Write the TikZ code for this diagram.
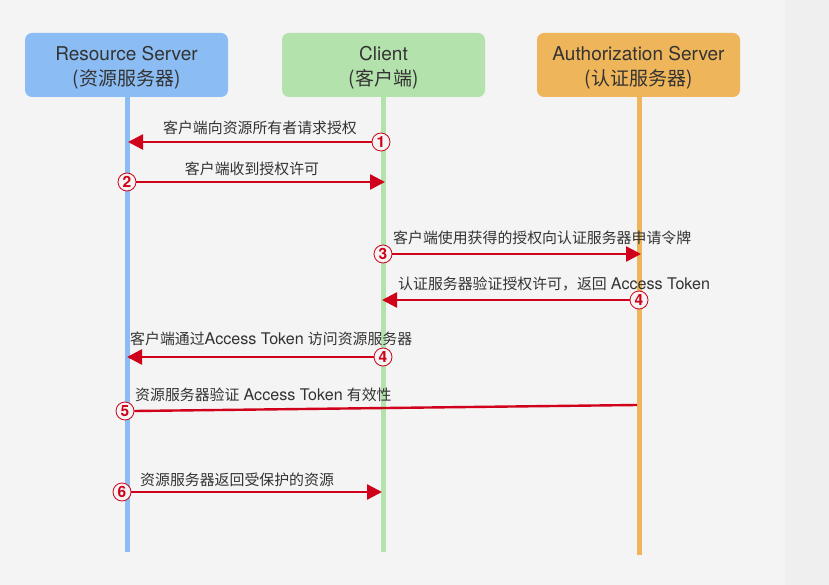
\documentclass[tikz,border=0pt]{standalone}
\usepackage{fontspec}
\setmainfont{TeX Gyre Heros}
\newfontfamily\cjk{Noto Sans CJK SC}
\newfontfamily\latl{TeX Gyre Heros}[Scale=1.08]
\usetikzlibrary{arrows.meta}
\definecolor{bg}{HTML}{F4F4F4}
\definecolor{strip}{HTML}{EFEFEF}
\definecolor{rsblue}{HTML}{8BBDF4}
\definecolor{clgreen}{HTML}{B3E2AC}
\definecolor{asorange}{HTML}{EFB55A}
\definecolor{msgred}{HTML}{D0021B}
\definecolor{txt}{HTML}{333333}
\begin{document}
\begin{tikzpicture}[x=1pt,y=-1pt,
  actor/.style={rounded corners=7pt, minimum width=203pt, minimum height=64pt, inner sep=0pt},
  title/.style={align=center, text=txt, font=\fontsize{19}{25}\selectfont, inner sep=0pt},
  life/.style={line width=5pt},
  msg/.style={draw=msgred, line width=2.4pt, -{Triangle[length=15pt,width=15pt]}},
  plain/.style={draw=msgred, line width=2.4pt},
  num/.style={circle, draw=msgred, line width=0.8pt, minimum size=18pt, inner sep=0pt,
    fill=bg, text=msgred, font=\fontsize{15.5}{15.5}\bfseries\selectfont},
  lbl/.style={text=txt, font=\fontsize{14.9}{16}\selectfont, inner sep=0pt}]
\fill[bg] (0,0) rectangle (829,585);
\fill[strip] (785,0) rectangle (829,585);
\useasboundingbox (0,0) rectangle (829,585);

% actors
\node[actor, fill=rsblue] (rs) at (126.5,65) {};
\node[title] (rsT) at (126.5,67.5) {Resource Server\\{\cjk (资源服务器)}};
\node[actor, fill=clgreen] (cl) at (383.5,65) {};
\node[title] (clT) at (383.5,67.5) {Client\\{\cjk (客户端)}};
\node[actor, fill=asorange] (as) at (638.5,65) {};
\node[title] (asT) at (638.5,67.5) {Authorization Server\\{\cjk (认证服务器)}};

% lifelines
\coordinate (rsEnd) at (127,552);
\coordinate (clEnd) at (383,552);
\coordinate (asEnd) at (639,555);
\draw[life, rsblue] (rs.south -| rsEnd) -- (rsEnd);
\draw[life, clgreen] (cl.south -| clEnd) -- (clEnd);
\draw[life, asorange] (as.south -| asEnd) -- (asEnd);

% message 1
\coordinate (t1) at (128,142);
\node[num] (n1) at (381,142) {1};
\draw[msg] (n1.west) -- (t1);
\node[lbl] (l1) at (260,128) {\cjk 客户端向资源所有者请求授权};

% message 2
\coordinate (t2) at (385,182);
\node[num] (n2) at (127,182) {2};
\draw[msg] (n2.east) -- (t2);
\node[lbl] (l2) at (252,169) {\cjk 客户端收到授权许可};

% message 3
\coordinate (t3) at (641,254);
\node[num] (n3) at (383,254) {3};
\draw[msg] (n3.east) -- (t3);
\node[lbl, anchor=west] (l3) at (393,238) {\cjk 客户端使用获得的授权向认证服务器申请令牌};

% message 4
\coordinate (t4) at (382,300);
\node[num] (n4) at (639,300) {4};
\draw[msg] (n4.west) -- (t4);
\node[lbl, anchor=west] (l4) at (398,284) {{\cjk 认证服务器验证授权许可，返回} {\latl Access Token}};

% message 4b
\coordinate (t4b) at (127,357);
\node[num] (n4b) at (383,357) {4};
\draw[msg] (n4b.west) -- (t4b);
\node[lbl, anchor=west] (l4b) at (130,339) {{\cjk 客户端通过}{\latl Access Token} {\cjk 访问资源服务器}};

% message 5
\coordinate (s5) at (637,405);
\node[num] (n5) at (125,411) {5};
\draw[plain] (s5) -- (n5.east);
\node[lbl, anchor=west] (l5) at (135,395) {{\cjk 资源服务器验证} {\latl Access Token} {\cjk 有效性}};

% message 6
\coordinate (t6) at (382,492);
\node[num] (n6) at (122,492) {6};
\draw[msg] (n6.east) -- (t6);
\node[lbl, anchor=west] (l6) at (140,480) {\cjk 资源服务器返回受保护的资源};
\end{tikzpicture}
\end{document}
